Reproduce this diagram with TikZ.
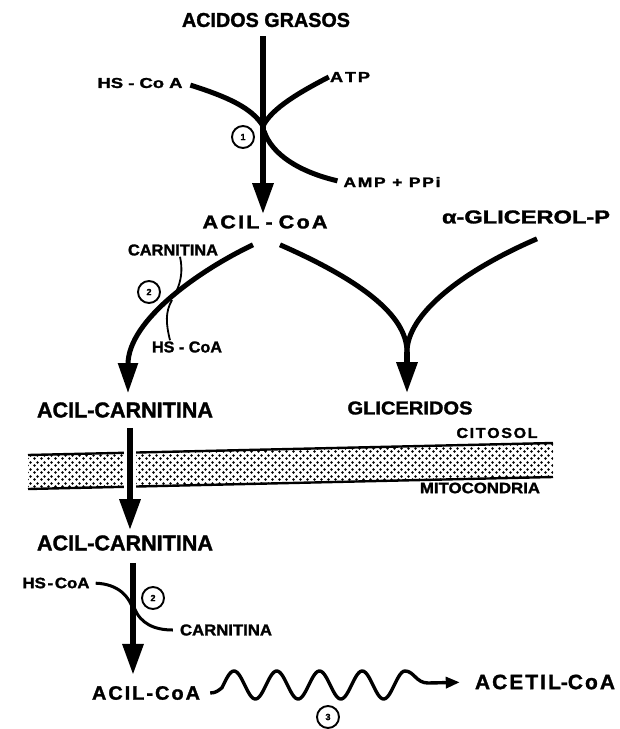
\documentclass[tikz,border=0pt]{standalone}
\usepackage{fontspec}
\setmainfont{Liberation Sans}[BoldFeatures={FakeBold=1.5}]
\usepackage{graphicx}
\usetikzlibrary{arrows.meta,patterns.meta,calc}
\newcommand{\rs}[3]{\resizebox{#1pt}{#2pt}{\bfseries #3}}
\newcommand{\lsp}{\kern0.1em}
\tikzdeclarepattern{
  name=memdots,
  type=uncolored,
  bounding box={(0pt,0pt) and (6.5pt,6.5pt)},
  tile size={(6.5pt,6.5pt)},
  code={
    \fill (1.6pt,1.6pt) circle [radius=1.45pt];
    \fill (4.85pt,4.85pt) circle [radius=1.45pt];
  }
}
\begin{document}
\begin{tikzpicture}[x=1pt,y=-1pt,
  lbl/.style={inner sep=1pt, text=black},
  circ/.style={circle, draw, line width=1.9pt, minimum size=22pt, inner sep=0pt,
    font=\fontsize{9}{9}\selectfont\bfseries},
  bigarrow/.style={line width=6pt, -{Triangle[length=31pt,width=20pt]}},
  thickc/.style={line width=5pt},
  thinc/.style={line width=1.8pt},
  medc/.style={line width=3pt},
  wavec/.style={line width=3.4pt, -{Triangle[length=14pt,width=11pt]}}
]
\useasboundingbox (0,0) rectangle (620,729);

% ---------- labels ----------
\node[lbl] (acidos)   at (266,20)  {\rs{168}{14}{ACIDOS GRASOS}};
\node[lbl] (hscoa1)   at (140,83)  {\rs{85}{10}{HS - Co A}};
\node[lbl] (atp)      at (350,77)  {\rs{40}{10}{A\lsp T\lsp P}};
\node[lbl] (amp)      at (392,182) {\rs{97}{10}{A\lsp M\lsp P\lsp\ +\ \lsp P\lsp P\lsp i}};
\node[lbl] (acilcoa1) at (265,222) {\rs{125}{13}{A\lsp C\lsp I\lsp L - C\lsp o\lsp A}};
\node[lbl] (glicerolp) at (526,217) {\rs{168}{13}{α-GLICEROL-P}};
\node[lbl] (carn2)    at (173,250) {\rs{90}{11}{CARNITINA}};
\node[lbl] (hscoa2)   at (187,347) {\rs{70}{11}{HS - CoA}};
\node[lbl] (acilcarn1) at (125,410) {\rs{176}{15}{ACIL-CARNITINA}};
\node[lbl] (gliceridos) at (410,408) {\rs{125}{13}{GLICERIDOS}};
\node[lbl] (citosol)  at (497,433) {\rs{81}{10}{C\lsp I\lsp T\lsp O\lsp S\lsp O\lsp L}};
\node[lbl] (mito)     at (480,488) {\rs{120}{10.5}{MITOCONDRIA}};
\node[lbl] (acilcarn2) at (125,543) {\rs{176}{15}{ACIL-CARNITINA}};
\node[lbl] (hscoa3)   at (56,583)  {\rs{67}{10.5}{HS\lsp -\lsp CoA}};
\node[lbl] (carn3)    at (226,630) {\rs{92}{11}{CARNITINA}};
\node[lbl] (acilcoa2) at (146,693) {\rs{108}{13.5}{A\lsp C\lsp I\lsp L\lsp -\lsp C\lsp o\lsp A}};
\node[lbl] (acetil)   at (545,682) {\rs{140}{14.5}{A\lsp C\lsp E\lsp T\lsp I\lsp L-C\lsp o\lsp A}};

% ---------- step circles ----------
\node[circ] (c1)  at (243,137) {1};
\node[circ] (c2)  at (149,292) {2};
\node[circ] (c2b) at (153,598) {2};
\node[circ] (c3)  at (328,717) {3};

% ---------- membrane ----------
\fill[pattern=memdots, pattern color=black] (28,455) -- (553,443) -- (553,477) -- (28,489) -- cycle;
\draw[line width=2.4pt] (28,455) -- (553,443);
\draw[line width=2.4pt] (28,489) -- (553,477);

% ---------- merge points ----------
\coordinate (m1) at (263,126);
\coordinate (m2) at (264,131);
\coordinate (m3) at (407,352);
\coordinate (b1) at (176,292);
\coordinate (b2) at (172,300);
\coordinate (m5) at (134,613);
\coordinate (m6) at (134,607);

% ---------- step 1 ----------
\draw[bigarrow, shorten <=8pt] ([xshift=-3pt]acidos.south) -- ([xshift=-2pt]acilcoa1.north);
\draw[thickc, shorten <=7pt] (hscoa1.east) .. controls (228,97) and (252,108) .. (m1);
\draw[thickc] (atp.west) .. controls (300,92) and (272,108) .. (m1);
\draw[thickc, shorten >=5pt] (m2) .. controls (272,155) and (300,172) .. (amp.west);

% ---------- acil-CoA to acil-carnitina ----------
\draw[thickc, -{Triangle[length=30pt,width=19pt]}, shorten >=8pt]
  ([shift={(-12,15)}]acilcoa1.south) .. controls (200,270) and (128,320) .. ([xshift=3pt]acilcarn1.north);
\draw[thinc] ([xshift=7pt]carn2.south) .. controls (183,270) and (181,282) .. (b1);
\draw[thinc] (b2) .. controls (165,312) and (166,324) .. ([xshift=-17pt]hscoa2.north);

% ---------- gliceridos ----------
\draw[thickc] ([shift={(15,15)}]acilcoa1.south) .. controls (360,280) and (407,315) .. (m3);
\draw[thickc] ([shift={(11,14)}]glicerolp.south) .. controls (460,272) and (407,315) .. (m3);
\draw[bigarrow, shorten >=7pt] (m3) -- ([xshift=-3pt]gliceridos.north);

% ---------- through membrane ----------
\draw[white, line width=12pt] ([xshift=5pt]acilcarn1.south) ++(0,30) -- ++(0,46);
\draw[bigarrow, shorten <=9pt, shorten >=4pt] ([xshift=5pt]acilcarn1.south) -- ([xshift=5pt]acilcarn2.north);

% ---------- step 2 (mitochondria) ----------
\draw[bigarrow, shorten <=11pt, shorten >=10pt] ([xshift=8pt]acilcarn2.south) -- ([xshift=-13pt]acilcoa2.north);
\draw[medc, shorten <=5pt] (hscoa3.east) .. controls (118,584) and (130,596) .. (m5);
\draw[medc, shorten >=6pt] (m6) .. controls (140,624) and (155,630) .. (carn3.west);

% ---------- beta oxidation wave ----------
\draw[wavec, shorten >=14pt] ([xshift=9pt]acilcoa2.east) .. controls +(6,0) and (219,690) .. (222,687.7)
  -- plot[domain=222:405, samples=160, smooth] (\x, {685-14*cos((\x-234)/42.75*360)})
  .. controls (414,671) and (416,683) .. (428,683) -- (acetil.west);
\end{tikzpicture}
\end{document}
